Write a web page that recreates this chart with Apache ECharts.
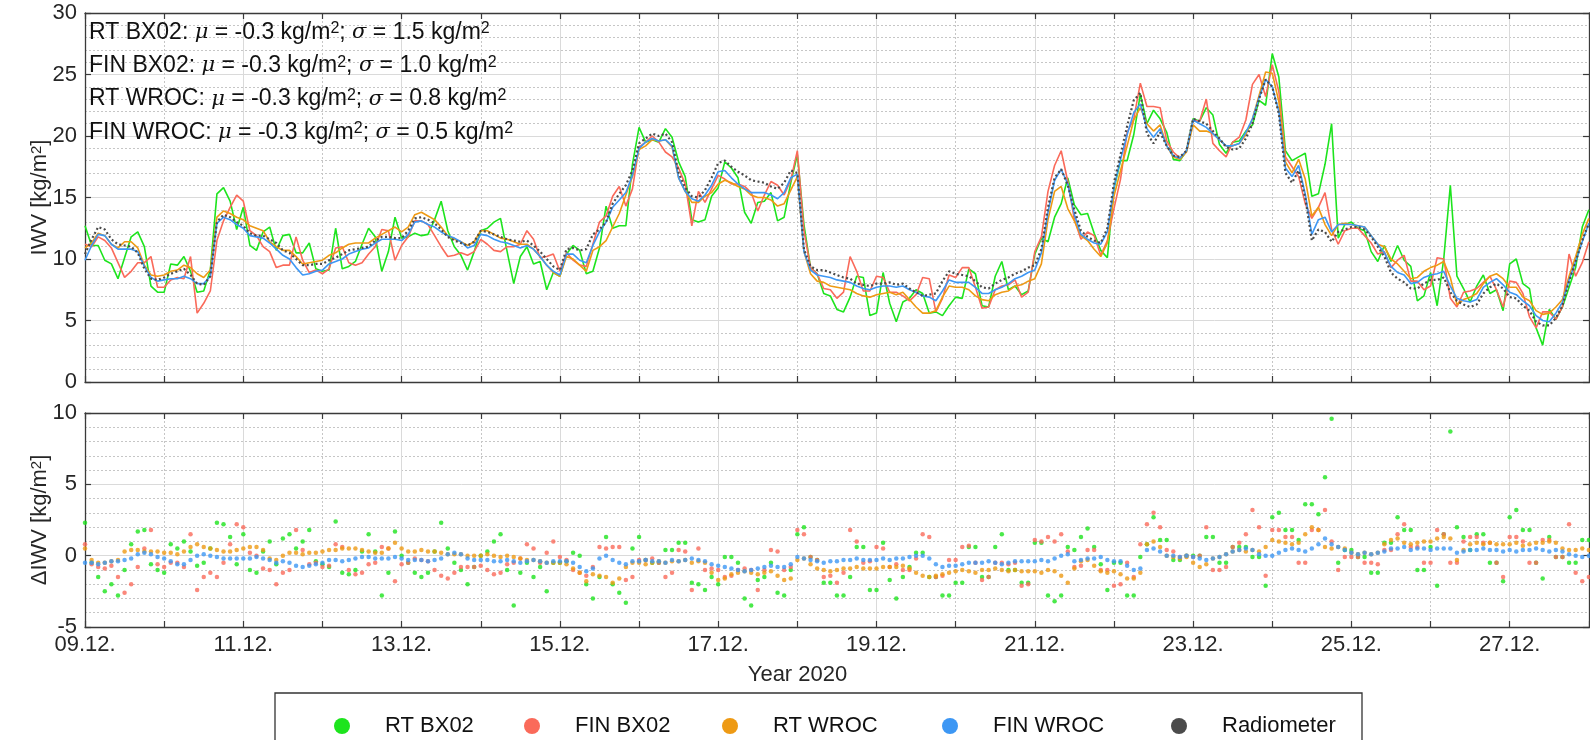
<!DOCTYPE html>
<html>
<head>
<meta charset="utf-8">
<title>IWV Dec 2020</title>
<script src="https://cdn.jsdelivr.net/npm/echarts@6.0.0/dist/echarts.min.js"></script>
<style>
  html, body { margin: 0; padding: 0; background: #fff; }
  #chart { width: 1590px; height: 740px; }
</style>
</head>
<body>
<div id="chart"></div>
<script>
// time base: 09.12.2020 00:00, one sample every 2 hours
const startDay = 9
const stepHours = 2

const seriesNames = ['RT BX02', 'FIN BX02', 'RT WROC', 'FIN WROC', 'Radiometer']
const seriesColors = ['#1de41d', '#fa6a5a', '#ee9a14', '#3d97f4', '#4b4b4b']

// radiometer IWV [kg/m2], one row per day (12 x 2h)
const radiometer = [
  10.4, 11.6, 12.6, 12.4, 11.6, 11.2, 11.1, 11.0, 10.5, 9.2, 8.4, 8.3,
  8.5, 8.8, 9.0, 9.2, 8.7, 8.0, 7.9, 8.6, 13.0, 13.6, 13.4, 13.0,
  12.7, 12.1, 11.9, 11.9, 11.6, 11.3, 10.7, 10.5, 10.0, 9.5, 9.5, 9.6,
  9.6, 9.9, 10.1, 10.4, 10.7, 10.8, 10.9, 11.0, 11.5, 11.8, 11.8, 11.7,
  11.7, 12.3, 13.3, 13.4, 13.2, 12.9, 12.4, 11.8, 11.5, 11.3, 11.1, 11.4,
  12.3, 12.2, 12.0, 11.8, 11.6, 11.5, 11.4, 11.5, 11.1, 10.6, 10.0, 9.4,
  9.1, 10.8, 10.9, 10.7, 10.8, 12.0, 12.4, 13.0, 14.5, 15.3, 16.0, 17.2,
  19.4, 19.8, 20.2, 20.0, 20.2, 19.5, 17.0, 15.8, 15.1, 15.0, 15.6, 16.6,
  17.8, 18.0, 17.5, 17.1, 16.8, 16.4, 16.3, 16.2, 15.9, 15.7, 16.2, 17.2,
  17.0, 10.8, 9.4, 9.1, 9.1, 8.9, 8.7, 8.5, 8.4, 8.0, 7.9, 7.8,
  8.0, 8.0, 8.1, 7.9, 8.0, 7.6, 7.3, 7.0, 7.1, 7.2, 8.2, 9.0,
  8.8, 8.7, 8.6, 8.2, 7.7, 7.6, 8.0, 8.3, 8.5, 8.8, 9.0, 9.3,
  9.5, 10.8, 14.2, 16.6, 17.3, 16.0, 14.0, 12.3, 11.8, 11.5, 11.3, 12.5,
  16.2, 18.5, 20.8, 22.9, 23.5, 20.2, 19.4, 20.3, 19.2, 18.4, 18.3, 18.8,
  21.4, 21.2, 21.0, 20.4, 19.8, 19.1, 18.9, 19.0, 19.8, 21.0, 23.0, 24.6,
  24.0, 21.8, 17.0, 16.2, 17.2, 15.0, 11.5, 12.4, 12.2, 11.4, 12.2, 12.4,
  12.6, 12.6, 12.4, 11.8, 11.0, 10.2, 8.9, 8.4, 8.1, 7.6, 7.6, 8.0,
  8.3, 8.3, 8.5, 7.3, 6.6, 6.3, 6.1, 6.3, 7.2, 7.7, 8.0, 7.6,
  6.9, 6.8, 6.2, 5.8, 4.9, 4.6, 4.6, 5.2, 6.2, 8.2, 9.8, 11.5,
  12.9
]

// differences to radiometer (delta IWV) [kg/m2]
const dRtBx02 = [
  2.3, -0.5, -1.5, -2.5, -2.0, -2.8, -1.0, 0.8, 1.7, 1.8, -0.6, -1.0,
  -1.2, 0.8, 0.5, 1.0, 0.3, -0.7, -0.5, 0.5, 2.3, 2.2, 1.3, -0.6,
  1.5, -1.0, -1.2, 0.3, 1.0, -0.6, 1.2, 1.5, 0.5, 1.0, 1.8, -0.4,
  -0.6, -0.8, 2.4, -1.2, -1.3, -1.0, 0.3, 1.5, 0.3, -2.8, -1.2, 1.7,
  0.0, -0.5, -1.2, -1.5, -1.2, 0.3, 2.3, 0.5, -0.5, -1.0, -2.0, -0.8,
  0.0, 0.3, 1.0, 1.5, -1.0, -3.5, -1.2, -0.5, -1.5, -0.8, -2.5, -0.5,
  -0.5, -0.4, 0.2, 0.0, -2.0, -3.0, -1.5, 1.3, -2.0, -2.6, -3.3, 0.5,
  1.3, -0.3, -0.5, -0.5, 0.4, 0.4, 0.9, 0.9, -1.9, -2.0, -2.4, -1.5,
  -2.0, -0.1, -0.1, -0.5, -3.0, -3.5, -1.7, -1.5, -0.5, -2.6, -2.8, -1.0,
  1.5, 2.0, -0.1, -0.3, -1.9, -1.9, -2.8, -2.8, -1.5, 0.6, 0.6, -2.4,
  -2.4, 0.9, -1.7, -3.0, -1.5, -0.8, 0.2, 0.2, -1.5, -1.5, -2.8, -2.8,
  -1.9, -1.9, 0.6, 0.6, -1.5, -1.5, 0.6, 1.5, -1.0, -1.0, -1.9, -1.9,
  0.9, 0.9, -2.8, -3.2, -2.8, 0.6, 0.4, 1.3, 1.9, 0.6, -0.6, -2.4,
  -0.5, -0.5, -2.8, -2.8, -0.1, 0.8, 2.7, 1.1, 1.1, -0.3, -0.3, 0.0,
  0.0, 0.0, 1.3, 1.3, -0.5, -0.5, 0.6, 0.6, 0.6, -0.1, -0.1, -2.1,
  2.7, 3.0, 1.8, 1.8, 1.1, 3.6, 3.6, 2.9, 5.5, 9.6, -0.5, 0.4,
  0.4, -0.1, -0.1, -1.2, -1.2, 0.9, 0.9, 2.7, 1.8, 1.8, -1.0, -1.0,
  0.6, -2.1, 1.5, 8.7, 2.0, 1.3, 0.4, 1.5, 1.5, -0.5, -0.5, -1.8,
  2.7, 3.2, 1.8, 1.8, -0.5, -1.6, 1.3, -0.1, -0.1, -0.5, -0.5, 1.1,
  1.1
]

const dFinBx02 = [
  0.8, -0.6, -0.8, -0.9, -0.7, -1.5, -2.6, -2.0, -0.8, 0.5, 1.8, -0.6,
  -0.8, -0.5, -0.5, -0.8, 1.5, -2.4, -1.5, -1.2, -1.5, -0.5, 0.8, 2.2,
  2.0, 0.2, 0.0, -0.9, -1.0, -2.0, -1.2, -1.0, 1.8, 0.4, -0.6, -0.5,
  -0.8, -0.7, 0.8, 0.6, -1.0, -1.3, -1.2, -0.6, -0.5, 0.6, 0.5, -1.8,
  -0.6, -0.5, -0.2, -0.3, -0.4, -1.0, -1.4, -1.6, -1.2, -0.8, -0.8, -0.8,
  -0.7, -1.0, -1.3, -1.2, -0.6, -0.5, -0.2, 0.8, 0.5, -0.5, 0.2, 1.0,
  -0.1, -0.3, -1.0, -1.2, -1.4, -0.8, 0.6, 0.5, 0.6, 0.6, -1.7, -1.5,
  -0.3, -0.3, -0.2, -0.5, -1.5, -1.2, 0.4, 0.3, -2.4, 0.5, -1.0, -0.9,
  -1.0, -1.5, -1.4, -1.0, -0.9, -1.0, -2.4, -1.0, 0.4, 0.3, -1.0, -0.8,
  1.8, 1.5, -0.1, -0.3, -1.5, -1.4, -1.9, -1.2, 1.8, 1.0, -0.5, -0.4,
  0.6, 0.5, -0.8, -0.6, -1.0, -1.0, -0.2, 1.5, 1.3, -1.5, -1.4, -0.3,
  -0.3, 0.6, 0.7, -0.5, -1.7, -1.5, -0.5, -0.5, -0.6, -0.5, -2.1, -2.0,
  1.1, 1.0, 1.3, 1.0, 1.5, 0.3, -0.8, -0.7, 0.4, 0.4, -1.0, -1.0,
  -2.1, -2.0, -0.5, -1.5, 0.8, 2.2, 3.0, 2.0, 0.4, 0.3, -0.1, 0.0,
  -0.1, 0.0, 2.0, -1.0, -1.0, -0.8, 0.6, 0.9, 1.5, 3.2, 2.0, -1.4,
  1.8, 1.8, 1.3, 1.3, -0.5, -0.5, 1.8, 1.8, 3.2, 1.0, -1.0, -0.1,
  -0.1, -0.1, -0.5, -0.5, -0.6, 0.4, 0.4, 1.5, 2.2, 0.6, 0.6, -0.5,
  -0.5, 1.8, 1.5, -0.5, -0.5, 1.0, 1.3, 1.3, 0.9, 0.9, -0.5, -1.5,
  1.3, 1.3, 1.0, -0.5, -0.5, 1.1, 1.1, -0.1, -0.1, 2.2, -1.2, -1.8,
  -1.5
]

const dRtWroc = [
  0.5, -0.3, -0.5, -0.5, -0.4, -0.3, 0.3, 0.4, 0.4, 0.3, 0.3, 0.3,
  0.2, 0.2, 0.1, 0.3, 0.6, 0.8, 0.6, 0.5, 0.4, 0.3, 0.3, 0.4,
  0.5, 0.6, 0.6, 0.4, -0.2, -0.3, 0.0, 0.2, 0.2, 0.1, 0.2, 0.2,
  0.3, 0.4, 0.4, 0.5, 0.5, 0.5, 0.4, 0.3, 0.2, 0.2, 0.5, 0.9,
  0.5, 0.3, 0.3, 0.4, 0.3, 0.3, 0.2, 0.1, 0.1, 0.1, 0.0, 0.0,
  0.0, 0.1, 0.0, -0.1, 0.0, -0.1, -0.2, -0.3, -0.3, -0.4, -0.5, -0.5,
  -0.5, -0.6, -0.9, -1.2, -1.8, -1.3, -1.4, -1.5, -1.9, -1.6, -0.8, -0.5,
  -0.5, -0.6, -0.5, -0.4, -0.5, -0.4, -0.4, -0.3, -0.5, -0.4, -0.5, -1.2,
  -1.7, -1.6, -1.3, -1.2, -1.1, -1.2, -1.3, -1.2, -1.1, -1.4, -1.7, -1.6,
  -0.3, -0.2, -0.6, -0.9, -1.0, -1.1, -1.0, -0.9, -0.9, -0.8, -0.9, -0.9,
  -0.9, -0.8, -0.8, -0.8, -0.7, -0.9, -1.2, -1.4, -1.5, -1.4, -1.3, -1.2,
  -1.1, -1.0, -1.1, -1.2, -1.0, -1.0, -0.9, -1.0, -1.1, -1.0, -1.1, -1.1,
  -1.1, -1.2, -1.0, -1.1, -1.4, -1.9, -0.9, -0.4, -0.3, -0.7, -1.1, -1.2,
  -1.1, -1.3, -1.6, -1.6, -1.2, 0.8, 1.0, 0.6, 0.0, -0.1, -0.2, -0.1,
  -0.5, -0.8, -0.6, -0.2, -0.1, 0.1, 0.3, 0.4, 0.3, 0.4, 0.3, 0.6,
  1.1, 1.0, 0.9, 0.8, 0.9, 1.5, 2.0, 1.8, 0.6, 0.5, 0.6, 0.5,
  0.2, 0.1, 0.2, 0.1, 0.2, 0.8, 1.1, 1.2, 0.9, 0.8, 0.9, 1.0,
  1.0, 1.2, 1.3, 1.2, -0.3, 0.4, 0.8, 0.9, 0.8, 0.9, 0.8, 0.8,
  0.8, 0.9, 0.7, 0.8, 0.9, 0.9, 1.0, 0.9, 0.5, 0.4, 0.4, 0.5,
  0.4
]

const dFinWroc = [
  -0.5, -0.5, -0.6, -0.5, -0.4, -0.4, -0.3, -0.2, 0.1, 0.2, 0.1, -0.1,
  -0.2, -0.4, -0.6, -0.6, -0.3, 0.0, 0.1, 0.0, -0.1, -0.2, -0.2, -0.2,
  -0.2, -0.2, -0.1, -0.2, -0.3, -0.5, -0.4, -0.5, -0.7, -0.8, -0.7, -0.6,
  -0.5, -0.3, -0.3, -0.4, -0.3, -0.2, -0.1, -0.1, -0.2, -0.2, -0.2, -0.1,
  -0.2, -0.3, -0.3, -0.3, -0.4, -0.3, -0.2, 0.1, 0.2, 0.1, -0.2, -0.3,
  -0.3, -0.3, -0.4, -0.4, -0.3, -0.4, -0.5, -0.4, -0.3, -0.4, -0.5, -0.4,
  -0.4, -0.4, -0.5, -0.8, -1.1, -0.9, -0.2, 0.0, -0.3, -0.5, -0.6, -0.4,
  -0.4, -0.3, -0.4, -0.4, -0.5, -0.3, -0.4, -0.3, -0.2, -0.3, -0.4, -0.6,
  -0.7, -0.8, -0.9, -1.0, -1.1, -1.0, -0.9, -0.8, -0.7, -0.8, -0.8, -0.6,
  -0.1, -0.2, -0.3, -0.4, -0.5, -0.4, -0.4, -0.3, -0.3, -0.2, -0.3, -0.3,
  -0.3, -0.2, -0.3, -0.2, -0.2, -0.1, 0.0, 0.0, -0.2, -0.6, -0.8, -0.7,
  -0.7, -0.6, -0.5, -0.5, -0.5, -0.4, -0.5, -0.6, -0.5, -0.4, -0.4, -0.4,
  -0.4, -0.3, -0.4, -0.2, 0.0, 0.1, -0.4, -0.3, -0.2, -0.2, -0.1, -0.3,
  -0.4, -0.4, -0.7, -1.0, -0.9, 0.4, 0.5, 0.3, 0.0, 0.0, -0.1, 0.0,
  -0.1, -0.2, -0.3, -0.2, -0.1, 0.1, 0.3, 0.4, 0.5, 0.4, 0.1, 0.0,
  0.0, 0.2, 0.4, 0.5, 0.4, 0.3, 0.5, 0.8, 1.2, 0.8, 0.6, 0.4,
  0.2, 0.1, 0.2, 0.1, 0.2, 0.3, 0.5, 0.5, 0.6, 0.4, 0.5, 0.5,
  0.4, 0.5, 0.5, 0.5, 0.2, 0.3, 0.4, 0.4, 0.5, 0.4, 0.4, 0.3,
  0.4, 0.3, 0.4, 0.4, 0.5, 0.4, 0.3, 0.4, 0.3, 0.1, 0.0, -0.1,
  0.0
]

// statistics written in the upper panel
const statNames = ['RT BX02', 'FIN BX02', 'RT WROC', 'FIN WROC']
const statMu = ['-0.3', '-0.3', '-0.3', '-0.3']
const statSigma = ['1.5', '1.0', '0.8', '0.5']

const deltas = [dRtBx02, dFinBx02, dRtWroc, dFinWroc]
const hours = radiometer.map((_, i) => i * stepHours)

const font = 'Liberation Sans, Arial, Helvetica, sans-serif'
const axisColor = '#3a3a3a'
const textColor = '#262626'
const supStyle = { fontSize: 15, fontFamily: font, verticalAlign: 'top', color: textColor }

function dayLabel(v) {
  const d = startDay + v / 24
  return (d < 10 ? '0' + d : '' + d) + '.12.'
}

function xAx(grid, pos, withLabels, withGrid) {
  return {
    type: 'value', gridIndex: grid, position: pos,
    min: 0, max: 480, interval: 48,
    axisLine: { show: true, onZero: false, lineStyle: { color: axisColor, width: 1.3 } },
    axisTick: { show: true, inside: true, length: 6, lineStyle: { color: axisColor, width: 1.2 } },
    minorTick: { show: true, splitNumber: 2, length: 6, lineStyle: { color: axisColor, width: 1.2 } },
    axisLabel: {
      show: withLabels, formatter: dayLabel, fontSize: 22, fontFamily: font,
      color: textColor, margin: 7, showMaxLabel: false
    },
    splitLine: { show: withGrid, lineStyle: { color: '#dadada', width: 1 } },
    minorSplitLine: { show: withGrid, lineStyle: { color: '#c6c6c6', width: 1, type: [2, 2] } }
  }
}

function yAx(grid, min, max, name, left) {
  return {
    type: 'value', gridIndex: grid, position: left ? 'left' : 'right',
    offset: left ? 0 : -79,
    min: min, max: max, interval: 5,
    name: left ? name : '', nameLocation: 'middle', nameGap: 34, nameMoveOverlap: false,
    nameTextStyle: { fontSize: 22, fontFamily: font, color: textColor, rich: { s: supStyle } },
    axisLine: { show: true, onZero: false, lineStyle: { color: axisColor, width: 1.3 } },
    axisTick: { show: true, inside: true, length: 6, lineStyle: { color: axisColor, width: 1.2 } },
    minorTick: { show: false, splitNumber: 5 },
    axisLabel: { show: left, fontSize: 22, fontFamily: font, color: textColor, margin: 8 },
    splitLine: { show: left, lineStyle: { color: '#dadada', width: 1 } },
    minorSplitLine: { show: left, lineStyle: { color: '#c6c6c6', width: 1, type: [2, 2] } }
  }
}

const series = []
deltas.forEach((d, k) => {
  series.push({
    type: 'line', name: seriesNames[k], xAxisIndex: 0, yAxisIndex: 0,
    data: hours.map((h, i) => [h, Math.round((radiometer[i] + d[i]) * 10) / 10]),
    showSymbol: false, z: 2 + k,
    itemStyle: { color: seriesColors[k] },
    lineStyle: { color: seriesColors[k], width: 1.6 }
  })
})
series.push({
  type: 'line', name: seriesNames[4], xAxisIndex: 0, yAxisIndex: 0,
  data: hours.map((h, i) => [h, radiometer[i]]),
  showSymbol: false, z: 8,
  itemStyle: { color: seriesColors[4] },
  lineStyle: { color: seriesColors[4], width: 2.2, type: [2, 2.5] }
})
deltas.forEach((d, k) => {
  series.push({
    type: 'scatter', name: seriesNames[k], xAxisIndex: 2, yAxisIndex: 2,
    data: hours.map((h, i) => [h, d[i]]),
    symbolSize: 4.5, z: 2 + k,
    itemStyle: { color: seriesColors[k], borderWidth: 0 }
  })
})

// legend: one entry per component so each marker sits where the reference has it
const legendX = [342, 532, 730, 950, 1179]
const legends = seriesNames.map((name, k) => ({
  data: [{ name: name, icon: 'circle' }],
  left: legendX[k] - 8, top: 715,
  padding: 0, itemWidth: 16, itemHeight: 16, itemGap: 0,
  selectedMode: false,
  itemStyle: { borderWidth: 0 },
  textStyle: { fontSize: 22, fontFamily: font, color: '#111', padding: [0, 0, 0, 30] }
}))

const statTexts = statNames.map((n, k) => ({
  type: 'text', left: 89, top: 21 + k * 33.3, silent: true, z: 20,
  style: {
    text: n + ': {i|μ} = ' + statMu[k] + ' kg/m{s|2}; {i|σ} = ' + statSigma[k] + ' kg/m{s|2}',
    fontSize: 23, fontFamily: font, fill: '#111',
    rich: {
      i: { fontStyle: 'italic', fontFamily: 'DejaVu Serif', fontSize: 21, fill: '#111' },
      s: { fontSize: 16, fontFamily: font, verticalAlign: 'top', fill: '#111' }
    }
  }
}))

const chart = echarts.init(document.getElementById('chart'))
chart.setOption({
  animation: false,
  backgroundColor: '#fff',
  grid: [
    { left: 85, right: -78, top: 13, height: 369, containLabel: false, outerBoundsMode: 'none' },
    { left: 85, right: -78, top: 413, height: 214, containLabel: false, outerBoundsMode: 'none' }
  ],
  xAxis: [
    xAx(0, 'bottom', false, true),
    xAx(0, 'top', false, false),
    Object.assign(xAx(1, 'bottom', true, true), {
      name: 'Year 2020', nameLocation: 'middle', nameGap: 37, nameMoveOverlap: false,
      nameTextStyle: { fontSize: 22, fontFamily: font, color: textColor, padding: [0, 158, 0, 0] }
    }),
    xAx(1, 'top', false, false)
  ],
  yAxis: [
    yAx(0, 0, 30, 'IWV [kg/m{s|2}]', true),
    yAx(0, 0, 30, '', false),
    yAx(1, -5, 10, 'ΔIWV [kg/m{s|2}]', true),
    yAx(1, -5, 10, '', false)
  ],
  legend: legends,
  graphic: [
    {
      type: 'rect', silent: true, z: 0,
      shape: { x: 275, y: 693, width: 1087, height: 70 },
      style: { fill: '#fff', stroke: '#333', lineWidth: 1.3 }
    }
  ].concat(statTexts),
  series: series
})
</script>
</body>
</html>
